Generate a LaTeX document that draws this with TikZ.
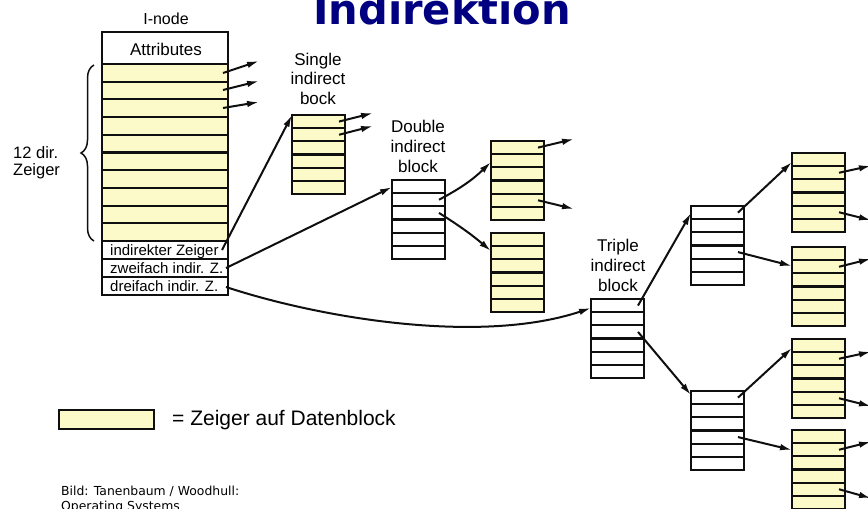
\documentclass[tikz,border=0pt]{standalone}
\usepackage{fontspec}
\setmainfont{Liberation Sans}
\newfontfamily\titlefont{DejaVu Sans}
\newfontfamily\notefont{DejaVu Sans}
\usetikzlibrary{arrows.meta,calc,decorations.pathreplacing}

\definecolor{ptrfill}{RGB}{252,250,200}
\definecolor{edge}{RGB}{15,15,15}
\definecolor{titleblue}{RGB}{0,0,128}

\tikzset{
  blockbox/.style={draw=edge, line width=2.4pt, minimum width=53pt, minimum height=79pt,
                   inner sep=0pt, outer sep=0pt, anchor=north west},
  rowline/.style={draw=edge, line width=2.1pt},
  ptr/.style={draw=edge, line width=2pt, -{Latex[length=12pt,width=6.5pt]}},
  lbl/.style={font=\fontsize{17}{20}\selectfont, anchor=base, inner sep=0pt},
  sidelbl/.style={font=\fontsize{16.5}{20}\selectfont, anchor=base west, inner sep=0pt},
  rowtext/.style={font=\fontsize{15}{18}\selectfont, anchor=base west, inner sep=0pt},
}

% a block of six pointer slots; (name-k) is a point inside slot k near its right edge
\newcommand\ptrblock[4]{%
  \node[blockbox, fill=#4] (#1) at (#2,#3) {};
  \foreach \k in {1,...,5}
    \draw[rowline] ($(#1.north west)!\k/6!(#1.south west)$) -- ($(#1.north east)!\k/6!(#1.south east)$);
  \foreach \k in {1,...,6}
    \coordinate (#1-\k) at ($(#1.north east)!{(\k-0.5)/6}!(#1.south east)+(-6,0)$);
}

\begin{document}
\begin{tikzpicture}[x=1pt,y=-1pt]
\useasboundingbox (0,0) rectangle (868,509);
\clip (0,0) rectangle (868,509);

% title
\node[font=\titlefont\bfseries\fontsize{41.6}{46}\selectfont, text=titleblue,
      anchor=base west, inner sep=0pt] (title) at (313,24) {Indirektion};

% ---------- I-node ----------
\node[lbl, font=\fontsize{16}{19}\selectfont] (inodelbl) at (166,24) {I-node};
\fill[ptrfill] (102,64) rectangle (228,241);
\foreach \r in {1,...,9}
  \draw[rowline] (102,{64+17.7*\r}) -- (228,{64+17.7*\r});
\draw[rowline] (102,64) -- (228,64);
\draw[rowline] (102,241) -- (228,241);
\draw[rowline] (102,259) -- (228,259);
\draw[rowline] (102,277) -- (228,277);
\node[draw=edge, line width=2.4pt, minimum width=126pt, minimum height=263pt,
      inner sep=0pt, outer sep=0pt, anchor=north west] (inode) at (102,32) {};
\node[lbl] (attr) at (166,55) {Attributes};
\node[rowtext] (ind1) at (110,255) {indirekter Zeiger};
\node[rowtext] (ind2) at (110,273) {zweifach indir. Z.};
\node[rowtext] (ind3) at (110,291) {dreifach indir. Z.};

% brace over the direct pointers
\draw[edge, line width=1.5pt, decorate, decoration={brace, amplitude=13pt}]
  (94,241) -- (94,65);
\node[sidelbl] (dir1) at (13,158) {12 dir.};
\node[sidelbl] (dir2) at (13,175) {Zeiger};

% direct pointers out of the I-node
\coordinate (d1s) at (223,73);   \coordinate (d1e) at (259,61);
\coordinate (d2s) at (223,90);   \coordinate (d2e) at (259,81);
\coordinate (d3s) at (223,108);  \coordinate (d3e) at (259,102);
\draw[ptr] (d1s) -- (d1e);
\draw[ptr] (d2s) -- (d2e);
\draw[ptr] (d3s) -- (d3e);

\coordinate (i1s) at (222,250);
\coordinate (i2s) at (226,268);
\coordinate (i3s) at (226,287);

% ---------- single indirect ----------
\node[lbl] (sgl1) at (318,65) {Single};
\node[lbl] (sgl2) at (318,84.5) {indirect};
\node[lbl] (sgl3) at (318,104) {bock};
\ptrblock{sib}{292}{115}{ptrfill}
\coordinate (s1e) at (373,113);
\coordinate (s2e) at (373,126);
\draw[ptr] (sib-1) -- (s1e);
\draw[ptr] (sib-2) -- (s2e);

% ---------- double indirect ----------
\node[lbl] (dbl1) at (418,132) {Double};
\node[lbl] (dbl2) at (418,152) {indirect};
\node[lbl] (dbl3) at (418,172) {block};
\ptrblock{dib}{392}{180}{white}
\ptrblock{da}{491}{141}{ptrfill}
\ptrblock{db}{491}{233}{ptrfill}
\coordinate (a1e) at (574,139);
\coordinate (a2e) at (574,209);
\draw[ptr] (da-1) -- (a1e);
\draw[ptr] (da-5) -- (a2e);

% ---------- triple indirect ----------
\node[lbl] (tri1) at (618,251) {Triple};
\node[lbl] (tri2) at (618,271) {indirect};
\node[lbl] (tri3) at (618,291) {block};
\ptrblock{tib}{591}{299}{white}
\ptrblock{tu}{691}{206}{white}
\ptrblock{tl}{691}{391}{white}
\ptrblock{r1}{792}{153}{ptrfill}
\ptrblock{r2}{792}{247}{ptrfill}
\ptrblock{r3}{792}{339}{ptrfill}
\ptrblock{r4}{792}{430}{ptrfill}
\foreach \b/\k/\dy in {r1/2/-7, r1/5/8, r2/2/-8, r3/2/-7, r3/5/8, r4/2/-8, r4/5/9}{
  \coordinate (\b-\k-e) at ($(\b-\k)+(32,\dy)$);
  \draw[ptr] (\b-\k) -- (\b-\k-e);
}

% ---------- connections between blocks ----------
\draw[ptr] (i1s) -- (sib.north west);
\draw[ptr] (i2s) -- ($(dib.north west)+(0,7)$);
\draw[ptr] (i3s) .. controls (320,318) and (480,345) .. ($(tib.north west)+(0,9)$);

\draw[ptr] (dib-2) to[bend right=8] ($(da.north west)+(0,21)$);
\draw[ptr] (dib-3) to[bend left=4] ($(db.north west)+(0,18)$);

\draw[ptr] (tib-1) -- ($(tu.north west)+(0,7)$);
\draw[ptr] (tib-3) -- ($(tl.north west)+(0,4)$);
\draw[ptr] (tu-1) -- ($(r1.north west)+(0,9)$);
\draw[ptr] (tu-4) -- ($(r2.north west)+(0,19)$);
\draw[ptr] (tl-1) -- ($(r3.north west)+(0,9)$);
\draw[ptr] (tl-4) -- ($(r4.north west)+(0,20)$);

% ---------- legend and source ----------
\node[draw=edge, fill=ptrfill, line width=1.8pt, minimum width=95pt, minimum height=19pt,
      inner sep=0pt, anchor=north west] (legend) at (58,409) {};
\node[font=\fontsize{21}{24}\selectfont, anchor=base west, inner sep=0pt] (legendtxt)
  at (172,425) {= Zeiger auf Datenblock};
\node[font=\notefont\fontsize{12.4}{15}\selectfont, anchor=base west, inner sep=0pt] (src1)
  at (61,495) {Bild: Tanenbaum / Woodhull:};
\node[font=\notefont\fontsize{12.4}{15}\selectfont, anchor=base west, inner sep=0pt] (src2)
  at (61,510) {Operating Systems};
\end{tikzpicture}
\end{document}
